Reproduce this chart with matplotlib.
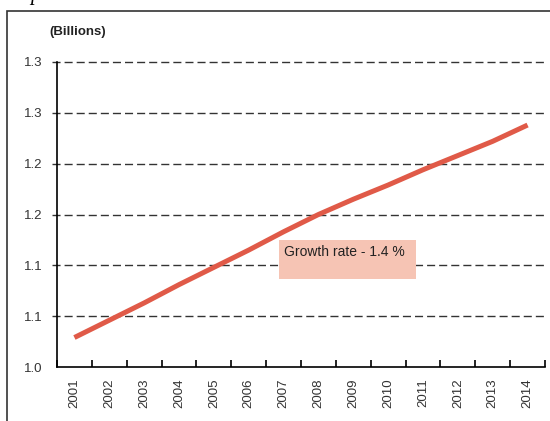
import matplotlib
matplotlib.use("Agg")
import matplotlib.pyplot as plt
from matplotlib.patches import Rectangle
import numpy as np

plt.rcParams['font.family'] = ['Liberation Sans', 'DejaVu Sans']

years = ["2001", "2002", "2003", "2004", "2005", "2006", "2007",
         "2008", "2009", "2010", "2011", "2012", "2013", "2014"]
population = [1.029, 1.046, 1.063, 1.081, 1.098, 1.115, 1.133,
              1.150, 1.165, 1.179, 1.194, 1.208, 1.222, 1.238]
ytick_values = [1.00, 1.05, 1.10, 1.15, 1.20, 1.25, 1.30]
ytick_labels = ["1.0", "1.1", "1.1", "1.2", "1.2", "1.3", "1.3"]
unit_label = "(Billions)"
annotation = "Growth rate - 1.4 %"

W, H = 550, 421
fig = plt.figure(figsize=(W / 100, H / 100), dpi=100)
ax = fig.add_axes([57 / W, 1 - 367 / H, (545 - 57) / W, (367 - 62) / H])

x = np.arange(len(years))
ax.set_xlim(-0.5, len(years) - 0.5)
ax.set_ylim(ytick_values[0], ytick_values[-1])

# dashed gridlines (extend slightly left of the spine)
for yv in ytick_values[1:]:
    ax.plot([-0.5 - 0.145, len(years) - 0.5], [yv, yv], color='#333333',
            lw=1.0, linestyle=(0, (5.8, 2.9)), clip_on=False, zorder=1)

ax.plot(x, population, color='#E05A48', lw=3.6, solid_capstyle='butt', zorder=3)

for s in ['top', 'right']:
    ax.spines[s].set_visible(False)
for s in ['left', 'bottom']:
    ax.spines[s].set_color('black')
    ax.spines[s].set_linewidth(1.2)

ax.set_yticks(ytick_values)
ax.set_yticklabels(ytick_labels, fontsize=9.5, color='#333333')
ax.tick_params(axis='y', length=0, pad=10.5)

ax.set_xticks(x)
ax.set_xticklabels(years, rotation=90, fontsize=9.5, color='#333333')
ax.tick_params(axis='x', which='major', length=0, pad=8)
ax.set_xticks(np.arange(len(years) + 1) - 0.5, minor=True)
ax.tick_params(axis='x', which='minor', direction='in', length=5, width=1.2, color='black')

# annotation box
ax.add_patch(Rectangle((279, H - 279), 137, 39, transform=None,
                       facecolor='#F6C4B4', edgecolor='none', zorder=4))
fig.text(284 / W, 1 - 252 / H, annotation, fontsize=10, color='#222222',
         va='center', ha='left', zorder=5)

fig.text(49 / W, 1 - 32 / H, unit_label, fontsize=9.5, fontweight='bold',
         color='#222222', va='center', ha='left')

# outer frame
fig.patches.append(Rectangle((7 / W, -0.1), 1.2, 1 - 11 / H + 0.1,
                             transform=fig.transFigure, fill=False,
                             edgecolor='#333333', lw=1.2, clip_on=False))

# clipped italic glyph at the top (descender of a cut-off title)
fig.text(30 / W, 1.0, "p", fontsize=15, fontstyle='italic',
         family='Liberation Serif', va='baseline', ha='left')

fig.savefig("out.png", dpi=100)
